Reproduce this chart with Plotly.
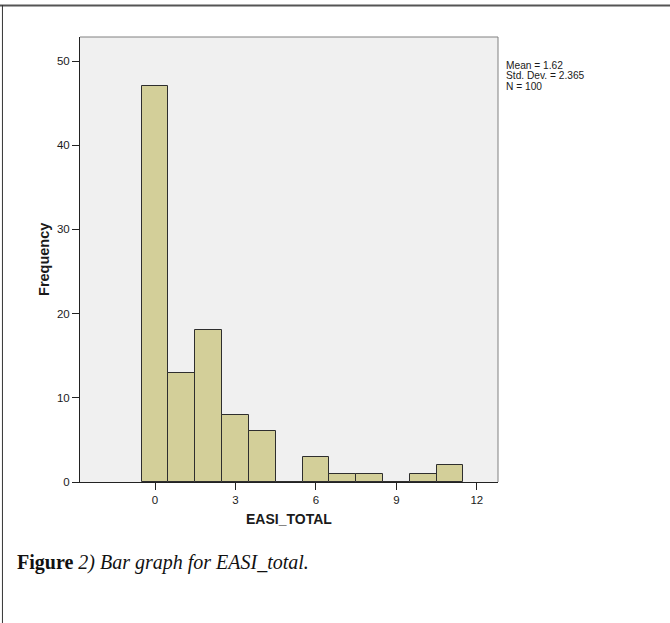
import plotly.graph_objects as go

# Histogram of EASI_TOTAL (bin centres and counts)
bin_centers = [0, 1, 2, 3, 4, 5, 6, 7, 8, 9, 10, 11]
frequency = [47, 13, 18, 8, 6, 0, 3, 1, 1, 0, 1, 2]
x_ticks = [0, 3, 6, 9, 12]
y_ticks = [0, 10, 20, 30, 40, 50]
stats_lines = ["Mean = 1.62", "Std. Dev. = 2.365", "N = 100"]
caption_bold = "Figure"
caption_italic = " 2) Bar graph for EASI_total."

W, H = 670, 623
L, R, T, B = 80, 497.7, 37, 482  # plot box in pixels


def px(xp):
    return (xp - L) / (R - L)


def py(yp):
    return (B - yp) / (B - T)


fig = go.Figure()
fig.add_trace(go.Bar(
    x=bin_centers, y=frequency, width=1,
    marker=dict(color="#d3cf99", line=dict(color="#2e2e2e", width=1)),
    hoverinfo="x+y",
))

axis_font = dict(family="Liberation Sans, Arial, sans-serif", size=11.5, color="#1a1a1a")

fig.update_layout(
    width=W, height=H,
    margin=dict(l=L, r=W - R, t=T, b=H - B),
    paper_bgcolor="white",
    plot_bgcolor="#f0f0f0",
    showlegend=False,
    bargap=0,
    xaxis=dict(
        range=[-2.8, 12.79], tickvals=x_ticks, ticks="outside", ticklen=7,
        tickcolor="#222", showgrid=False, zeroline=False,
        showline=True, linecolor="#222", linewidth=1,
        tickfont=axis_font,
    ),
    yaxis=dict(
        range=[0, 52.85], tickvals=y_ticks, ticks="outside", ticklen=7,
        tickcolor="#222", showgrid=False, zeroline=False,
        showline=True, linecolor="#222", linewidth=1,
        tickfont=axis_font,
    ),
)

shapes = [
    # top and right edges of the plot frame
    dict(type="line", xref="paper", yref="paper", x0=0, x1=1, y0=1, y1=1,
         line=dict(color="#808080", width=1)),
    dict(type="line", xref="paper", yref="paper", x0=1, x1=1, y0=0, y1=1,
         line=dict(color="#808080", width=1)),
    # figure border (top and left)
    dict(type="line", xref="paper", yref="paper", x0=px(0), x1=px(W), y0=py(5.5), y1=py(5.5),
         line=dict(color="#555555", width=2)),
    dict(type="line", xref="paper", yref="paper", x0=px(2.5), x1=px(2.5), y0=py(5), y1=py(H),
         line=dict(color="#333333", width=1)),
]
fig.update_layout(shapes=shapes)

annotations = [
    dict(text="<b>EASI_TOTAL</b>", xref="paper", yref="paper", x=px(288.8), y=py(519),
         xanchor="center", yanchor="middle", showarrow=False,
         font=dict(family="Liberation Sans, Arial, sans-serif", size=14, color="#1a1a1a")),
    dict(text="<b>Frequency</b>", xref="paper", yref="paper", x=px(43.5), y=py(259.5),
         xanchor="center", yanchor="middle", showarrow=False, textangle=-90,
         font=dict(family="Liberation Sans, Arial, sans-serif", size=14.5, color="#1a1a1a")),
]
for i, line in enumerate(stats_lines):
    annotations.append(dict(
        text=line, xref="paper", yref="paper", x=px(504), y=py(65.5 + 10.4 * i),
        xanchor="left", yanchor="middle", showarrow=False,
        font=dict(family="Liberation Sans, Arial, sans-serif", size=10.2, color="#1a1a1a"),
    ))
annotations.append(dict(
    text="<b>" + caption_bold + "</b><i>" + caption_italic + "</i>",
    xref="paper", yref="paper", x=px(15), y=py(562),
    xanchor="left", yanchor="middle", showarrow=False,
    font=dict(family="Liberation Serif, Times New Roman, serif", size=20, color="#111"),
))
fig.update_layout(annotations=annotations)

fig.write_html("out.html")
